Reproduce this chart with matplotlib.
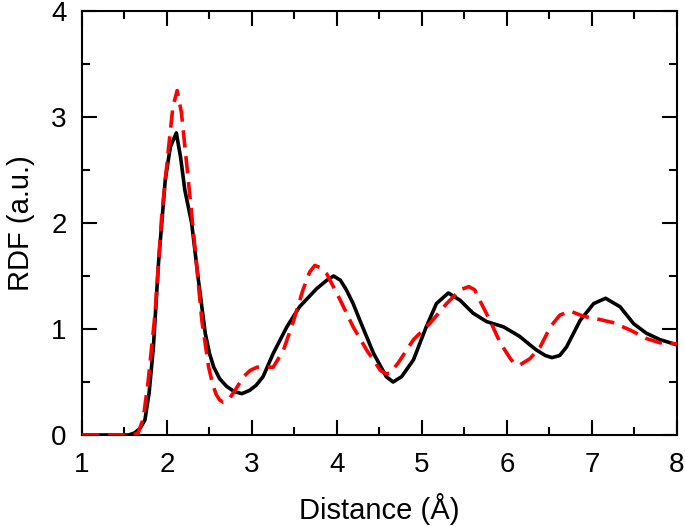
import matplotlib
matplotlib.use("Agg")
import matplotlib.pyplot as plt
from matplotlib.ticker import MultipleLocator

plt.rcParams['font.family'] = ['Liberation Sans', 'DejaVu Sans']

# black solid curve
r_black = [1.0, 1.3, 1.55, 1.62, 1.68, 1.74, 1.79, 1.84, 1.90, 1.98, 2.04, 2.11,
           2.16, 2.21, 2.29, 2.37, 2.45, 2.50, 2.55, 2.62, 2.70, 2.79, 2.88, 2.97,
           3.05, 3.13, 3.25, 3.41, 3.56, 3.76, 3.88, 3.96, 4.04, 4.11, 4.19, 4.27,
           4.43, 4.58, 4.66, 4.76, 4.90, 5.05, 5.17, 5.31, 5.45, 5.60, 5.76, 5.96,
           6.15, 6.27, 6.35, 6.45, 6.53, 6.62, 6.70, 6.86, 7.02, 7.16, 7.33, 7.49,
           7.64, 7.80, 8.0]
g_black = [0.0, 0.0, 0.0, 0.02, 0.06, 0.14, 0.40, 0.83, 1.62, 2.41, 2.72, 2.85,
           2.62, 2.31, 2.00, 1.46, 0.96, 0.77, 0.64, 0.53, 0.46, 0.41, 0.39, 0.42,
           0.47, 0.55, 0.77, 1.02, 1.21, 1.38, 1.46, 1.50, 1.46, 1.37, 1.24, 1.08,
           0.77, 0.55, 0.50, 0.55, 0.71, 1.02, 1.24, 1.34, 1.27, 1.15, 1.07, 1.02,
           0.93, 0.85, 0.80, 0.75, 0.73, 0.75, 0.83, 1.08, 1.24, 1.29, 1.21, 1.05,
           0.96, 0.90, 0.85]

# red dashed curve
r_red = [1.0, 1.3, 1.6, 1.66, 1.72, 1.78, 1.86, 1.94, 2.02, 2.07, 2.12, 2.17,
         2.23, 2.29, 2.35, 2.41, 2.49, 2.54, 2.58, 2.62, 2.66, 2.70, 2.74, 2.80,
         2.90, 2.98, 3.06, 3.16, 3.25, 3.37, 3.49, 3.60, 3.68, 3.74, 3.80, 3.88,
         4.04, 4.19, 4.35, 4.51, 4.57, 4.62, 4.72, 4.90, 5.09, 5.29, 5.45, 5.55,
         5.62, 5.68, 5.80, 5.92, 6.04, 6.09, 6.15, 6.27, 6.39, 6.51, 6.62, 6.74,
         6.90, 7.09, 7.25, 7.45, 7.64, 7.80, 8.0]
g_red = [0.0, 0.0, 0.0, 0.02, 0.15, 0.52, 1.15, 2.09, 2.72, 3.10, 3.25, 3.04,
         2.57, 2.09, 1.59, 1.08, 0.64, 0.47, 0.38, 0.33, 0.31, 0.32, 0.35, 0.42,
         0.55, 0.61, 0.64, 0.64, 0.64, 0.80, 1.08, 1.37, 1.54, 1.60, 1.58, 1.52,
         1.27, 1.02, 0.80, 0.61, 0.58, 0.58, 0.68, 0.90, 1.05, 1.24, 1.37, 1.40,
         1.37, 1.27, 1.08, 0.87, 0.72, 0.67, 0.66, 0.72, 0.83, 1.02, 1.13, 1.17,
         1.12, 1.09, 1.06, 0.99, 0.91, 0.87, 0.86]

x_ticks = [1, 2, 3, 4, 5, 6, 7, 8]
y_ticks = [0, 1, 2, 3, 4]

fig = plt.figure(figsize=(6.85, 5.27), dpi=100)
ax = fig.add_axes([0.1197, 0.1746, 0.8686, 0.8044])

ax.plot(r_black, g_black, color='black', lw=2.6, zorder=3,
        solid_joinstyle='round', solid_capstyle='round')
ax.plot(r_red, g_red, color='#ff0000', lw=2.6, dashes=(4.8, 2.4), zorder=4)

ax.set_xlim(1, 8)
ax.set_ylim(0, 4)
ax.set_xticks(x_ticks)
ax.set_yticks(y_ticks)
ax.xaxis.set_minor_locator(MultipleLocator(0.5))
ax.yaxis.set_minor_locator(MultipleLocator(0.5))

ax.tick_params(which='both', direction='in', top=True, right=True, width=1.5,
               labelsize=20)
ax.tick_params(which='major', length=11)
ax.tick_params(which='minor', length=6)
ax.tick_params(axis='x', which='major', pad=12)
ax.tick_params(axis='y', which='major', pad=11)
for s in ax.spines.values():
    s.set_linewidth(1.5)

ax.set_xlabel('Distance (Å)', fontsize=21, labelpad=11)
ax.set_ylabel('RDF (a.u.)', fontsize=21, labelpad=12)

fig.savefig('out.png', dpi=100)
